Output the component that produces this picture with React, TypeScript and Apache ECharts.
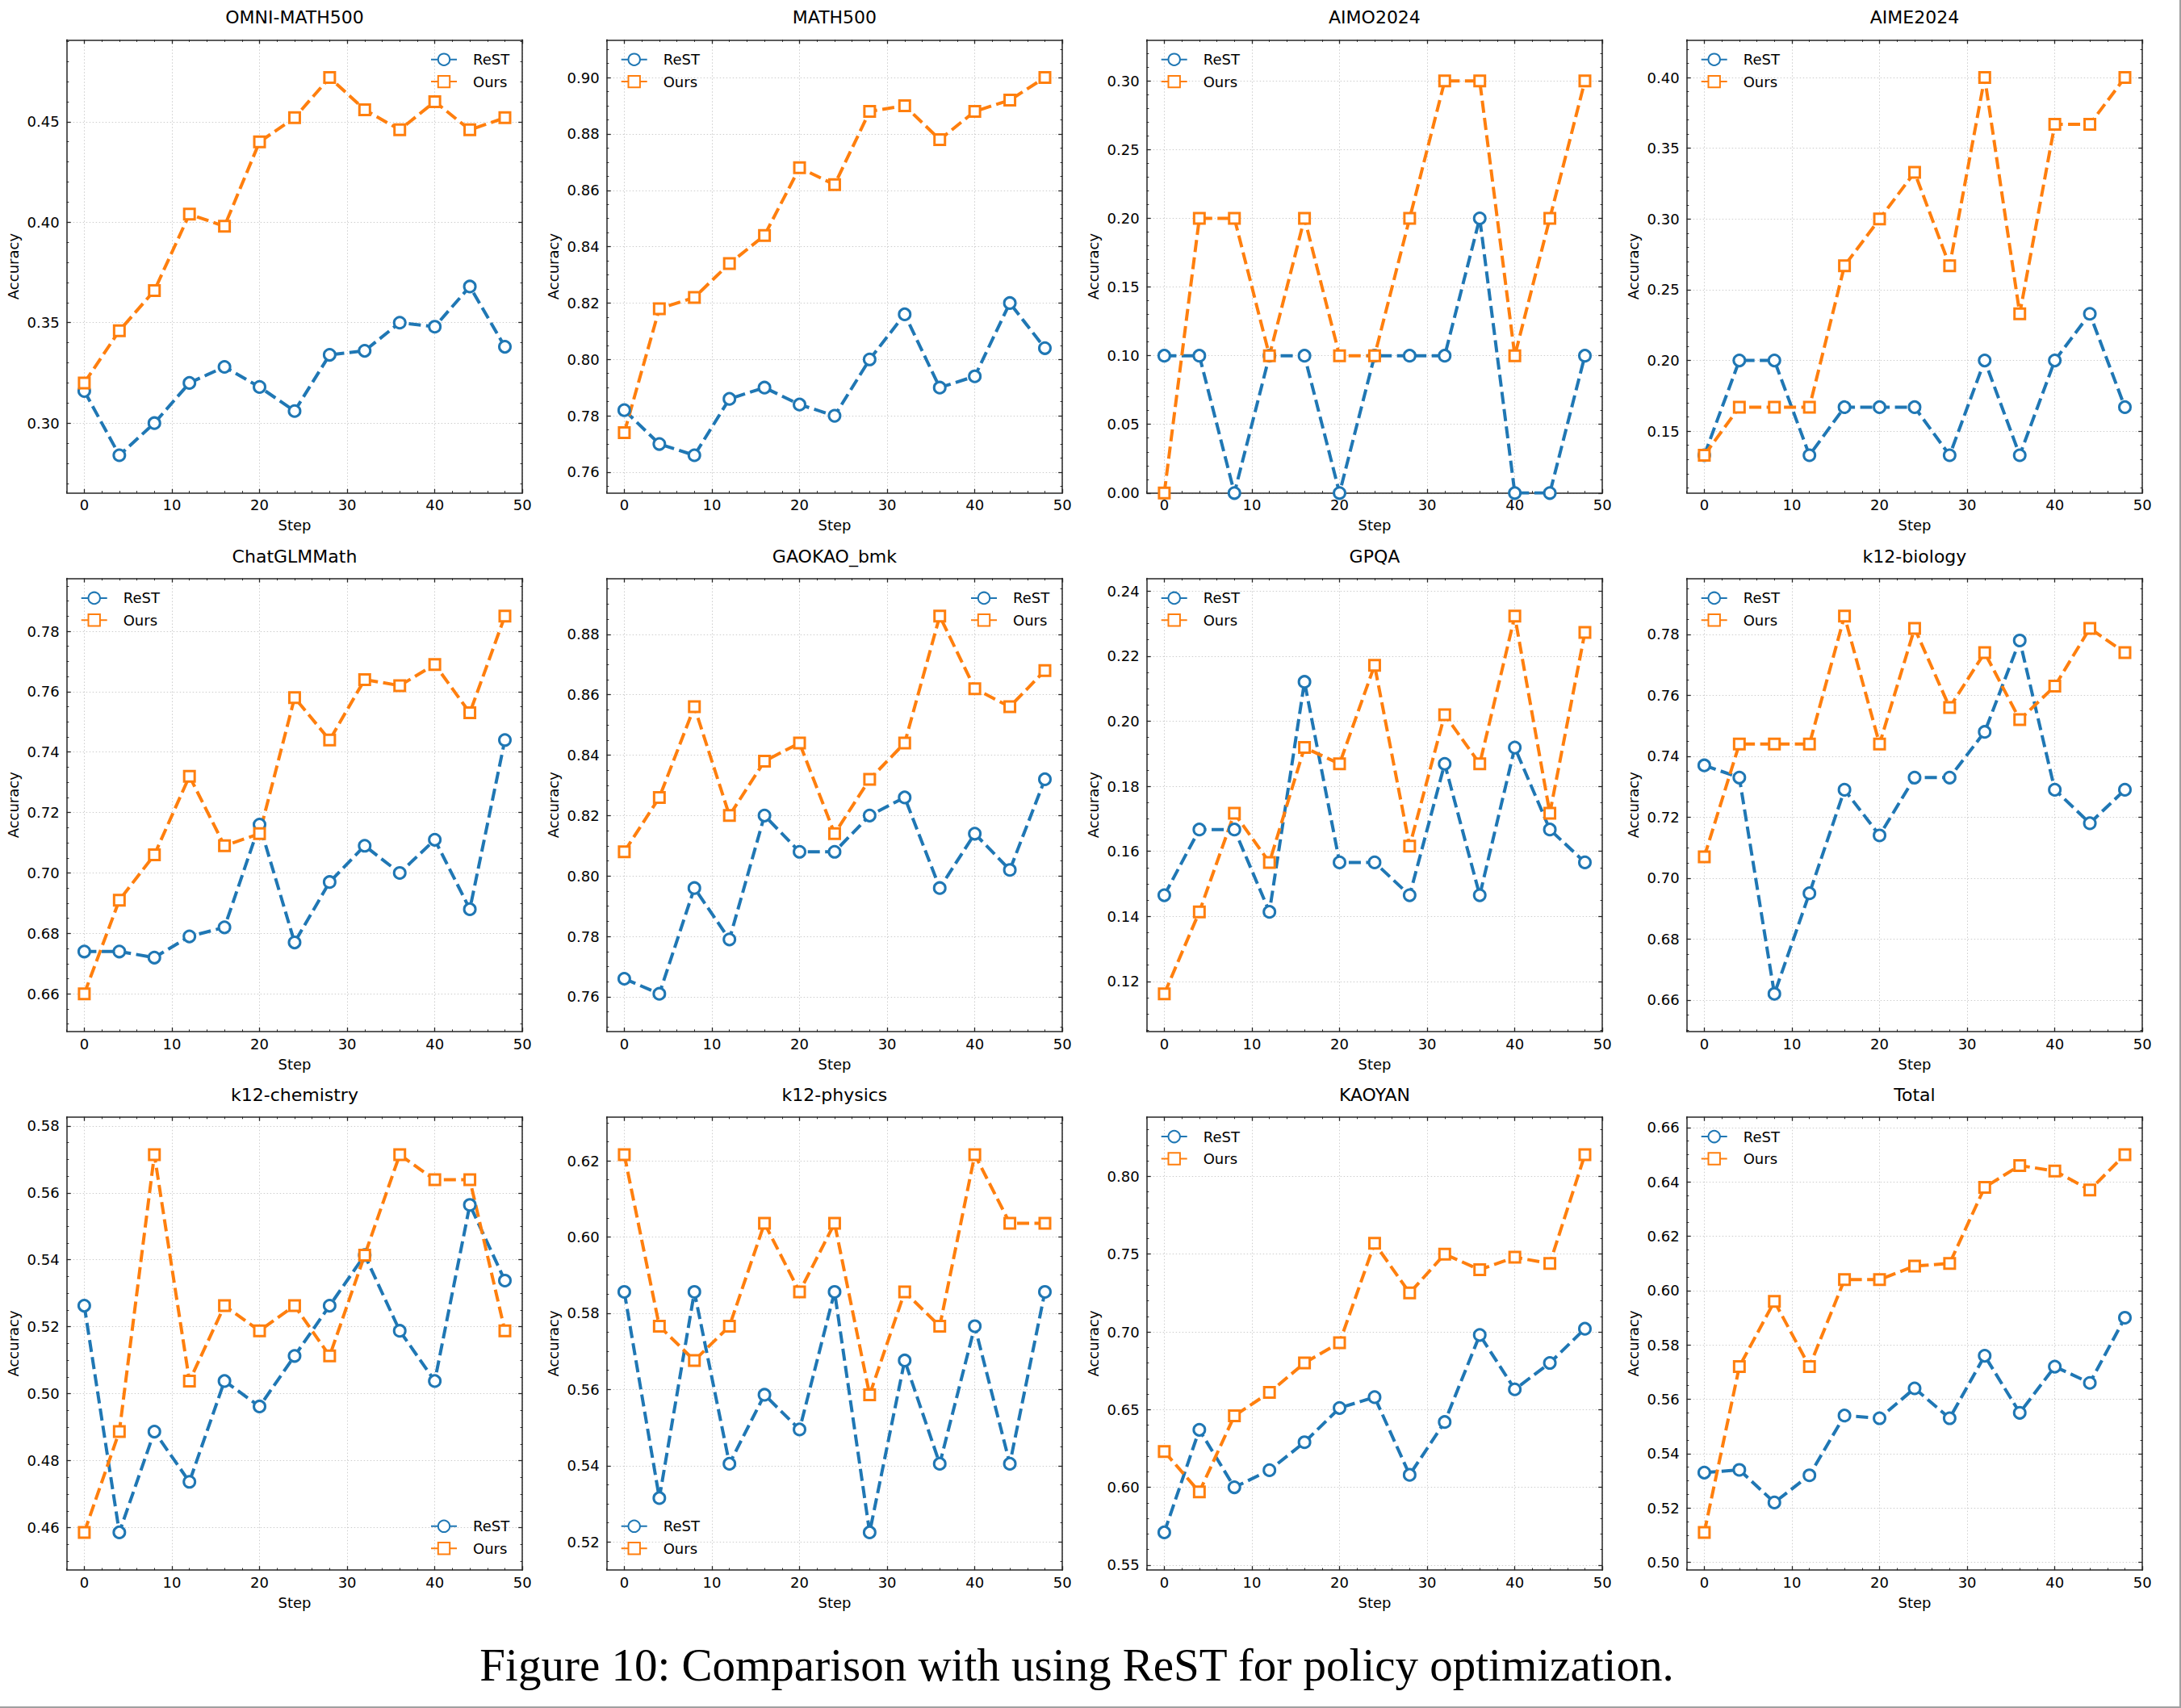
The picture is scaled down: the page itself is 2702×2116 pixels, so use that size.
import React, { useEffect, useRef } from "react";
import * as echarts from "echarts";

const steps = [0, 4, 8, 12, 16, 20, 24, 28, 32, 36, 40, 44, 48];
const xTicks = [0, 10, 20, 30, 40, 50];

const omniRest = [0.316, 0.284, 0.3, 0.32, 0.328, 0.318, 0.306, 0.334, 0.336, 0.35, 0.348, 0.368, 0.338];
const omniOurs = [0.32, 0.346, 0.366, 0.404, 0.398, 0.44, 0.452, 0.472, 0.456, 0.446, 0.46, 0.446, 0.452];
const omniTicks = [0.3, 0.35, 0.4, 0.45];

const math500Rest = [0.782, 0.77, 0.766, 0.786, 0.79, 0.784, 0.78, 0.8, 0.816, 0.79, 0.794, 0.82, 0.804];
const math500Ours = [0.774, 0.818, 0.822, 0.834, 0.844, 0.868, 0.862, 0.888, 0.89, 0.878, 0.888, 0.892, 0.9];
const math500Ticks = [0.76, 0.78, 0.8, 0.82, 0.84, 0.86, 0.88, 0.9];

const aimoRest = [0.1, 0.1, 0, 0.1, 0.1, 0, 0.1, 0.1, 0.1, 0.2, 0, 0, 0.1];
const aimoOurs = [0, 0.2, 0.2, 0.1, 0.2, 0.1, 0.1, 0.2, 0.3, 0.3, 0.1, 0.2, 0.3];
const aimoTicks = [0, 0.05, 0.1, 0.15, 0.2, 0.25, 0.3];

const aimeRest = [0.133, 0.2, 0.2, 0.133, 0.167, 0.167, 0.167, 0.133, 0.2, 0.133, 0.2, 0.233, 0.167];
const aimeOurs = [0.133, 0.167, 0.167, 0.167, 0.267, 0.3, 0.333, 0.267, 0.4, 0.233, 0.367, 0.367, 0.4];
const aimeTicks = [0.15, 0.2, 0.25, 0.3, 0.35, 0.4];

const chatglmRest = [0.674, 0.674, 0.672, 0.679, 0.682, 0.716, 0.677, 0.697, 0.709, 0.7, 0.711, 0.688, 0.744];
const chatglmOurs = [0.66, 0.691, 0.706, 0.732, 0.709, 0.713, 0.758, 0.744, 0.764, 0.762, 0.769, 0.753, 0.785];
const chatglmTicks = [0.66, 0.68, 0.7, 0.72, 0.74, 0.76, 0.78];

const gaokaoRest = [0.766, 0.761, 0.796, 0.779, 0.82, 0.808, 0.808, 0.82, 0.826, 0.796, 0.814, 0.802, 0.832];
const gaokaoOurs = [0.808, 0.826, 0.856, 0.82, 0.838, 0.844, 0.814, 0.832, 0.844, 0.886, 0.862, 0.856, 0.868];
const gaokaoTicks = [0.76, 0.78, 0.8, 0.82, 0.84, 0.86, 0.88];

const gpqaRest = [0.1465, 0.1667, 0.1667, 0.1414, 0.2121, 0.1566, 0.1566, 0.1465, 0.1869, 0.1465, 0.1919, 0.1667, 0.1566];
const gpqaOurs = [0.1162, 0.1414, 0.1717, 0.1566, 0.1919, 0.1869, 0.2172, 0.1616, 0.202, 0.1869, 0.2323, 0.1717, 0.2273];
const gpqaTicks = [0.12, 0.14, 0.16, 0.18, 0.2, 0.22, 0.24];

const bioRest = [0.737, 0.733, 0.662, 0.695, 0.729, 0.714, 0.733, 0.733, 0.748, 0.778, 0.729, 0.718, 0.729];
const bioOurs = [0.707, 0.744, 0.744, 0.744, 0.786, 0.744, 0.782, 0.756, 0.774, 0.752, 0.763, 0.782, 0.774];
const bioTicks = [0.66, 0.68, 0.7, 0.72, 0.74, 0.76, 0.78];

const chemRest = [0.5263, 0.4586, 0.4887, 0.4737, 0.5038, 0.4962, 0.5113, 0.5263, 0.5414, 0.5188, 0.5038, 0.5564, 0.5338];
const chemOurs = [0.4586, 0.4887, 0.5714, 0.5038, 0.5263, 0.5188, 0.5263, 0.5113, 0.5414, 0.5714, 0.5639, 0.5639, 0.5188];
const chemTicks = [0.46, 0.48, 0.5, 0.52, 0.54, 0.56, 0.58];

const physRest = [0.5856, 0.5315, 0.5856, 0.5405, 0.5586, 0.5495, 0.5856, 0.5225, 0.5676, 0.5405, 0.5766, 0.5405, 0.5856];
const physOurs = [0.6216, 0.5766, 0.5676, 0.5766, 0.6036, 0.5856, 0.6036, 0.5586, 0.5856, 0.5766, 0.6216, 0.6036, 0.6036];
const physTicks = [0.52, 0.54, 0.56, 0.58, 0.6, 0.62];

const kaoyanRest = [0.571, 0.637, 0.6, 0.611, 0.629, 0.651, 0.658, 0.608, 0.642, 0.698, 0.663, 0.68, 0.702];
const kaoyanOurs = [0.623, 0.597, 0.646, 0.661, 0.68, 0.693, 0.757, 0.725, 0.75, 0.74, 0.748, 0.744, 0.814];
const kaoyanTicks = [0.55, 0.6, 0.65, 0.7, 0.75, 0.8];

const totalRest = [0.533, 0.534, 0.522, 0.532, 0.554, 0.553, 0.564, 0.553, 0.576, 0.555, 0.572, 0.566, 0.59];
const totalOurs = [0.511, 0.572, 0.596, 0.572, 0.604, 0.604, 0.609, 0.61, 0.638, 0.646, 0.644, 0.637, 0.65];
const totalTicks = [0.5, 0.52, 0.54, 0.56, 0.58, 0.6, 0.62, 0.64, 0.66];

const titles = ["OMNI-MATH500", "MATH500", "AIMO2024", "AIME2024", "ChatGLMMath", "GAOKAO_bmk", "GPQA", "k12-biology", "k12-chemistry", "k12-physics", "KAOYAN", "Total"];
const restSeries = [omniRest, math500Rest, aimoRest, aimeRest, chatglmRest, gaokaoRest, gpqaRest, bioRest, chemRest, physRest, kaoyanRest, totalRest];
const oursSeries = [omniOurs, math500Ours, aimoOurs, aimeOurs, chatglmOurs, gaokaoOurs, gpqaOurs, bioOurs, chemOurs, physOurs, kaoyanOurs, totalOurs];
const yTickSets = [omniTicks, math500Ticks, aimoTicks, aimeTicks, chatglmTicks, gaokaoTicks, gpqaTicks, bioTicks, chemTicks, physTicks, kaoyanTicks, totalTicks];
const legendLocs = ["ur", "ul", "ul", "ul", "ul", "ur", "ul", "ul", "lr", "ll", "ul", "ul"];

const W = 2702;
const H = 2116;
const FONT = "DejaVu Sans";
const BLUE = "#1f77b4";
const ORANGE = "#ff7f0e";
const AXIS_COLOR = "#262626";
const PW = 564.5;
const PH = 561.5;
const colLeft = (c: number) => 82.7 + 669 * c;
const rowTop = (r: number) => 49.3 + 667.2 * r;

function minorTicks(major: number[], lo: number, hi: number) {
  const step = major[1] - major[0];
  const mant = step / Math.pow(10, Math.floor(Math.log10(step) + 1e-9));
  const nd = Math.abs(mant - 2) < 1e-6 ? 4 : 5;
  const ms = step / nd;
  const out: number[] = [];
  for (let k = Math.ceil(lo / ms - 1e-9); k * ms <= hi + 1e-12; k++) {
    const v = +(k * ms).toFixed(6);
    if (!major.some((m) => Math.abs(m - v) < 1e-9)) out.push(v);
  }
  return out;
}

function buildOption() {
  const grid: any[] = [];
  const xAxis: any[] = [];
  const yAxis: any[] = [];
  const series: any[] = [];
  const legend: any[] = [];
  const graphic: any[] = [];

  const labelStyle = { color: "#000", fontSize: 18, fontFamily: FONT };
  const gridLine = { show: true, lineStyle: { color: "#cdcdcd", width: 1, type: [1.5, 2.5] } };

  for (let i = 0; i < 12; i++) {
    const r = Math.floor(i / 4);
    const c = i % 4;
    const left = colLeft(c);
    const top = rowTop(r);
    grid.push({ left, top, width: PW, height: PH, containLabel: false, outerBoundsMode: "none" });

    const rest = restSeries[i];
    const ours = oursSeries[i];
    const all = rest.concat(ours);
    const dmin = Math.min(...all);
    const dmax = Math.max(...all);
    const rng = dmax - dmin;
    const ylo = Math.max(0, dmin - 0.1 * rng);
    const yhi = dmax + 0.1 * rng;
    const xlo = -2;
    const xhi = 50;
    const yMaj = yTickSets[i];
    const yMin = minorTicks(yMaj, ylo, yhi);
    const xMin = minorTicks(xTicks, xlo, xhi);

    const base = (extra: any) => ({
      type: "value",
      gridIndex: i,
      splitLine: { show: false },
      splitArea: { show: false },
      axisLabel: { show: false },
      axisLine: { show: false, onZero: false },
      axisTick: { show: false },
      ...extra,
    });

    xAxis.push(
      base({
        position: "bottom",
        min: xlo,
        max: xhi,
        name: "Step",
        nameLocation: "middle",
        nameGap: 31,
        nameTextStyle: { ...labelStyle },
        axisLine: { show: true, onZero: false, lineStyle: { color: AXIS_COLOR, width: 1.5 } },
        axisTick: { show: true, inside: true, length: 5, customValues: xTicks, lineStyle: { color: AXIS_COLOR, width: 1.3 } },
        axisLabel: { show: true, margin: 6, customValues: xTicks, ...labelStyle, formatter: (v: number) => String(v) },
        splitLine: gridLine,
      })
    );
    xAxis.push(
      base({
        position: "bottom",
        min: xlo,
        max: xhi,
        axisTick: { show: true, inside: true, length: 2.6, customValues: xMin, lineStyle: { color: AXIS_COLOR, width: 1 } },
      })
    );
    xAxis.push(
      base({
        position: "top",
        min: xlo,
        max: xhi,
        axisLine: { show: true, onZero: false, lineStyle: { color: AXIS_COLOR, width: 1.5 } },
        axisTick: { show: true, inside: true, length: 5, customValues: xTicks, lineStyle: { color: AXIS_COLOR, width: 1.3 } },
      })
    );
    xAxis.push(
      base({
        position: "top",
        min: xlo,
        max: xhi,
        axisTick: { show: true, inside: true, length: 2.6, customValues: xMin, lineStyle: { color: AXIS_COLOR, width: 1 } },
      })
    );

    yAxis.push(
      base({
        position: "left",
        min: ylo,
        max: yhi,
        name: "Accuracy",
        nameLocation: "middle",
        nameGap: 57,
        nameTextStyle: { ...labelStyle },
        axisLine: { show: true, onZero: false, lineStyle: { color: AXIS_COLOR, width: 1.5 } },
        axisTick: { show: true, inside: true, length: 5, customValues: yMaj, lineStyle: { color: AXIS_COLOR, width: 1.3 } },
        axisLabel: { show: true, margin: 9, customValues: yMaj, ...labelStyle, formatter: (v: number) => v.toFixed(2) },
        splitLine: gridLine,
      })
    );
    yAxis.push(
      base({
        position: "left",
        min: ylo,
        max: yhi,
        axisTick: { show: true, inside: true, length: 2.6, customValues: yMin, lineStyle: { color: AXIS_COLOR, width: 1 } },
      })
    );
    yAxis.push(
      base({
        position: "right",
        min: ylo,
        max: yhi,
        axisLine: { show: true, onZero: false, lineStyle: { color: AXIS_COLOR, width: 1.5 } },
        axisTick: { show: true, inside: true, length: 5, customValues: yMaj, lineStyle: { color: AXIS_COLOR, width: 1.3 } },
      })
    );
    yAxis.push(
      base({
        position: "right",
        min: ylo,
        max: yhi,
        axisTick: { show: true, inside: true, length: 2.6, customValues: yMin, lineStyle: { color: AXIS_COLOR, width: 1 } },
      })
    );

    const common = {
      type: "line",
      xAxisIndex: i * 4,
      yAxisIndex: i * 4,
      showAllSymbol: true,
      emphasis: { disabled: true },
      silent: true,
      clip: true,
    };
    series.push({
      ...common,
      name: "ReST",
      data: steps.map((s, j) => [s, rest[j]]),
      symbol: "circle",
      symbolSize: 14,
      lineStyle: { color: BLUE, width: 4, type: [15, 6.5] },
      itemStyle: { color: "#fff", borderColor: BLUE, borderWidth: 3 },
    });
    series.push({
      ...common,
      name: "Ours",
      data: steps.map((s, j) => [s, ours[j]]),
      symbol: "rect",
      symbolSize: 13,
      lineStyle: { color: ORANGE, width: 4, type: [15, 6.5] },
      itemStyle: { color: "#fff", borderColor: ORANGE, borderWidth: 3 },
    });

    const loc = legendLocs[i];
    const lg: any = {
      orient: "vertical",
      data: ["ReST", "Ours"],
      itemWidth: 32,
      itemHeight: 18,
      itemGap: 9.4,
      padding: 0,
      selectedMode: false,
      textStyle: { color: "#000", fontSize: 18, fontFamily: FONT, lineHeight: 18, padding: [0, 0, 0, 15] },
    };
    if (loc[1] === "l") lg.left = left + 17;
    else lg.right = W - (left + PW - 16);
    if (loc[0] === "u") lg.top = top + 15.4;
    else lg.bottom = H - (top + PH - 18);
    legend.push(lg);

    graphic.push({
      type: "text",
      x: left + PW / 2,
      y: top - 27.5,
      style: { text: titles[i], fontSize: 22, fontFamily: FONT, fontWeight: "normal", fill: "#000", textAlign: "center", textVerticalAlign: "middle" },
    });
  }

  graphic.push({
    type: "text",
    x: 1334,
    y: 2062,
    style: {
      text: "Figure 10: Comparison with using ReST for policy optimization.",
      fontSize: 57,
      fontFamily: "Liberation Serif",
      fill: "#000",
      textAlign: "center",
      textVerticalAlign: "middle",
    },
  });
  graphic.push({ type: "line", shape: { x1: W - 1, y1: 0, x2: W - 1, y2: H }, style: { stroke: "#a0a0a0", lineWidth: 2 } });
  graphic.push({ type: "line", shape: { x1: 0, y1: H - 1, x2: W, y2: H - 1 }, style: { stroke: "#a0a0a0", lineWidth: 2 } });

  return {
    animation: false,
    backgroundColor: "#fff",
    textStyle: { fontFamily: FONT },
    grid,
    xAxis,
    yAxis,
    series,
    legend,
    graphic,
  };
}

export default function App() {
  const ref = useRef<HTMLDivElement>(null);
  useEffect(() => {
    if (!ref.current) return;
    const chart = echarts.init(ref.current, null, { renderer: "svg", width: W, height: H });
    chart.setOption(buildOption() as any);
    return () => chart.dispose();
  }, []);
  return <div ref={ref} style={{ position: "absolute", left: 0, top: 0, width: W, height: H, background: "#fff" }} />;
}
